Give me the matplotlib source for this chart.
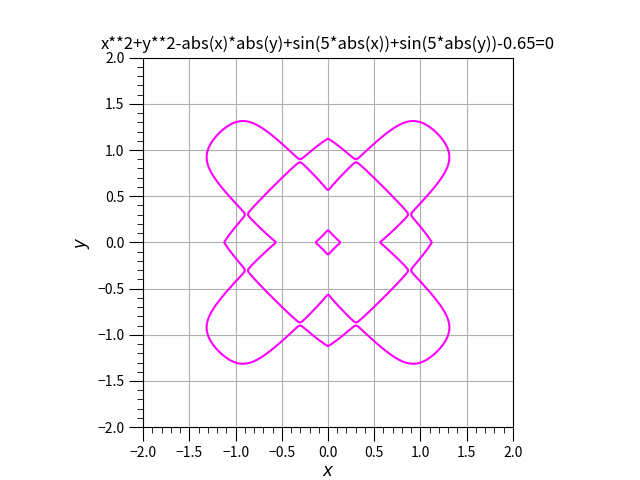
import matplotlib
matplotlib.use("Agg")
import matplotlib.pyplot as plt
from matplotlib.ticker import MultipleLocator
import numpy as np

plt.rcParams['font.family'] = ['Noto Sans CJK JP', 'DejaVu Sans']
plt.rcParams['axes.unicode_minus'] = True

# implicit curve: x**2 + y**2 - |x||y| + sin(k|x|) + sin(k|y|) - c = 0
title = "x**2+y**2-abs(x)*abs(y)+sin(5*abs(x))+sin(5*abs(y))-0.65=0"
k = 5
c = 0.65
x_range = [-2.0, 2.0]
y_range = [-2.0, 2.0]
n_grid = 300

x = np.linspace(x_range[0], x_range[1], n_grid)
y = np.linspace(y_range[0], y_range[1], n_grid)
X, Y = np.meshgrid(x, y)
Z = X**2 + Y**2 - np.abs(X) * np.abs(Y) + np.sin(k * np.abs(X)) + np.sin(k * np.abs(Y)) - c

fig, ax = plt.subplots(figsize=(6.4, 4.8), dpi=100)
ax.contour(X, Y, Z, levels=[0], colors='magenta', linewidths=1.5)
ax.set_xlim(x_range)
ax.set_ylim(y_range)
ax.set_aspect('equal')
ax.xaxis.set_major_locator(MultipleLocator(0.5))
ax.yaxis.set_major_locator(MultipleLocator(0.5))
ax.xaxis.set_minor_locator(MultipleLocator(0.1))
ax.yaxis.set_minor_locator(MultipleLocator(0.1))
ax.tick_params(which='major', length=10)
ax.tick_params(which='minor', length=4)
ax.grid(True, which='major', color='#b0b0b0')
ax.set_axisbelow(True)
ax.set_xlabel("$x$", fontsize=12, labelpad=2)
ax.set_ylabel("$y$", fontsize=12)
ax.set_title(title)
plt.savefig("out.png")
